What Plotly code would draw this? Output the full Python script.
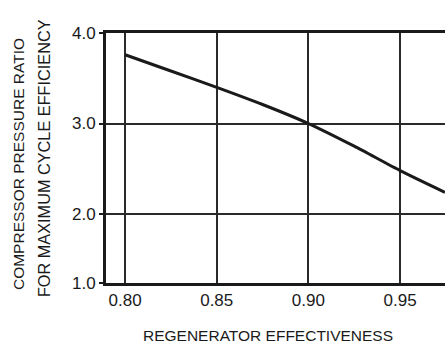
import plotly.graph_objects as go

# Data
effectiveness = [0.80, 0.825, 0.85, 0.875, 0.90, 0.925, 0.95, 0.9745]
pressure_ratio = [3.76, 3.58, 3.40, 3.21, 3.00, 2.75, 2.48, 2.24]

x_tick_vals = [0.80, 0.85, 0.90, 0.95]
x_tick_text = ["0.80", "0.85", "0.90", "0.95"]
# bottom of the axis is a compressed (broken) segment labelled 1.0
y_tick_vals = [1.238, 2.0, 3.0, 4.0]
y_tick_text = ["1.0", "2.0", "3.0", "4.0"]

x_title = "REGENERATOR EFFECTIVENESS"
y_title_lines = ["COMPRESSOR PRESSURE RATIO", "FOR MAXIMUM CYCLE EFFICIENCY"]

INK = "#1a1a1a"
FONT = "Liberation Sans, Arial, sans-serif"

fig = go.Figure()
fig.add_trace(go.Scatter(
    x=effectiveness, y=pressure_ratio, mode="lines",
    line=dict(color=INK, width=3, shape="spline", smoothing=0.6),
    hoverinfo="skip", showlegend=False,
))

fig.update_layout(
    width=445, height=346,
    margin=dict(l=106, r=0, t=33, b=63),
    paper_bgcolor="white", plot_bgcolor="white",
    font=dict(family=FONT, color=INK),
    xaxis=dict(
        range=[0.7896, 0.9745], tickvals=x_tick_vals, ticktext=x_tick_text,
        showgrid=True, gridcolor="#2a2a2a", gridwidth=2,
        showline=True, linecolor=INK, linewidth=3, mirror=True,
        ticks="", tickfont=dict(size=17, family=FONT), zeroline=False,
    ),
    yaxis=dict(
        range=[1.238, 4.0], tickvals=y_tick_vals, ticktext=y_tick_text,
        showgrid=True, gridcolor="#2a2a2a", gridwidth=2,
        showline=True, linecolor=INK, linewidth=3, mirror=False,
        ticks="outside", ticklen=4, tickwidth=2, tickcolor=INK,
        tickfont=dict(size=17, family=FONT), zeroline=False,
    ),
    annotations=[
        dict(text=x_title, xref="paper", yref="paper", x=0.478, y=-0.208,
             xanchor="center", yanchor="middle", showarrow=False,
             font=dict(size=15.5, family=FONT, color=INK)),
        dict(text=y_title_lines[0], xref="paper", yref="paper", x=-0.258, y=0.474,
             xanchor="center", yanchor="middle", showarrow=False,
             textangle=-90, font=dict(size=15.5, family=FONT, color=INK)),
        dict(text=y_title_lines[1], xref="paper", yref="paper", x=-0.184, y=0.498,
             xanchor="center", yanchor="middle", showarrow=False,
             textangle=-90, font=dict(size=16.3, family=FONT, color=INK)),
    ],
)

fig.write_html("out.html")
